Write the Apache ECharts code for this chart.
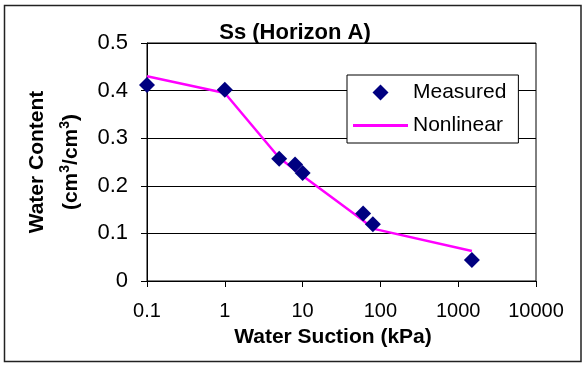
<!DOCTYPE html>
<html>
<head>
<meta charset="utf-8">
<script src="https://cdn.jsdelivr.net/npm/echarts@6/dist/echarts.min.js"></script>
<style>html,body{margin:0;padding:0;background:#fff}#c{width:582px;height:365px}</style>
</head>
<body>
<div id="c"></div>
<script>
const suction = [0.1, 1, 5, 8, 10, 60, 80, 1500];
const measured = [0.412, 0.402, 0.257, 0.245, 0.227, 0.142, 0.119, 0.044];
const nonlinear = [0.430, 0.395, 0.259, 0.233, 0.221, 0.127, 0.110, 0.063];
const yTicks = [0, 0.1, 0.2, 0.3, 0.4, 0.5];
const xTicks = [0.1, 1, 10, 100, 1000, 10000];

const FONT = "'Liberation Sans', Arial, sans-serif";
const chart = echarts.init(document.getElementById('c'), null, {renderer: 'canvas'});
chart.setOption({
  animation: false,
  backgroundColor: '#fff',
  textStyle: {fontFamily: FONT, color: '#000'},
  title: {
    text: 'Ss (Horizon A)', left: 295, top: 22, padding: 0, textAlign: 'center',
    textStyle: {fontFamily: FONT, fontSize: 22, fontWeight: 'bold', color: '#000'}
  },
  grid: {left: 147, top: 43, right: 46, bottom: 84, show: true, borderColor: '#000', borderWidth: 1, backgroundColor: 'transparent'},
  legend: {
    data: [
      {name: 'Measured', icon: 'path://M0,-1L1,0L0,1L-1,0Z'},
      {name: 'Nonlinear', icon: 'path://M0,0L55,0L55,3L0,3Z'}
    ],
    orient: 'vertical', left: 347, top: 75, symbolKeepAspect: true,
    padding: [7, 12, 7, 6], itemGap: 12, itemWidth: 55, itemHeight: 16,
    backgroundColor: '#fff', borderColor: '#000', borderWidth: 1,
    textStyle: {fontFamily: FONT, fontSize: 21, color: '#000'}
  },
  xAxis: {
    type: 'log', logBase: 10, min: xTicks[0], max: xTicks[xTicks.length - 1],
    axisLine: {show: true, lineStyle: {color: '#000', width: 1}},
    axisTick: {show: true, length: 6, lineStyle: {color: '#000'}},
    minorTick: {show: false},
    splitLine: {show: false},
    axisLabel: {margin: 20, fontSize: 20, fontFamily: FONT, color: '#000',
      formatter: v => String(v)}
  },
  yAxis: {
    type: 'value', min: yTicks[0], max: yTicks[yTicks.length - 1], interval: 0.1,
    axisLine: {show: true, lineStyle: {color: '#000', width: 1}},
    axisTick: {show: true, length: 6, lineStyle: {color: '#000'}},
    splitLine: {show: true, lineStyle: {color: '#000', width: 1}},
    axisLabel: {margin: 19, fontSize: 22, fontFamily: FONT, color: '#000',
      formatter: v => String(Math.round(v * 10) / 10)}
  },
  series: [
    {
      name: 'Measured', type: 'scatter', symbol: 'diamond', symbolSize: 16,
      itemStyle: {color: '#000080', opacity: 1}, z: 4,
      data: suction.map((s, i) => [s, measured[i]])
    },
    {
      name: 'Nonlinear', type: 'line', showSymbol: false, symbol: 'none', z: 3,
      lineStyle: {color: '#FF00FF', width: 2.5}, itemStyle: {color: '#FF00FF'},
      data: suction.map((s, i) => [s, nonlinear[i]])
    }
  ],
  graphic: [
    {type: 'rect', shape: {x: 4.5, y: 5.5, width: 576.5, height: 356}, style: {fill: 'none', stroke: '#222', lineWidth: 1.5}, silent: true, z: -10},
    {type: 'text', x: 37, y: 162, rotation: Math.PI / 2,
      style: {text: 'Water Content', font: "bold 21px 'Liberation Sans', Arial, sans-serif", fill: '#000', align: 'center', verticalAlign: 'middle'}},
    {type: 'text', x: 70, y: 162, rotation: Math.PI / 2,
      style: {
        text: '{n|(cm}{s|3}{n|/cm}{s|3}{n|)}', align: 'center', verticalAlign: 'middle',
        rich: {
          n: {fontFamily: FONT, fontSize: 21, fontWeight: 'bold', fill: '#000', lineHeight: 24, verticalAlign: 'bottom'},
          s: {fontFamily: FONT, fontSize: 14, fontWeight: 'bold', fill: '#000', lineHeight: 24, verticalAlign: 'top'}
        }
      }},
    {type: 'text', x: 333, y: 337,
      style: {text: 'Water Suction (kPa)', font: "bold 21px 'Liberation Sans', Arial, sans-serif", fill: '#000', align: 'center', verticalAlign: 'middle'}}
  ]
});
</script>
</body>
</html>
